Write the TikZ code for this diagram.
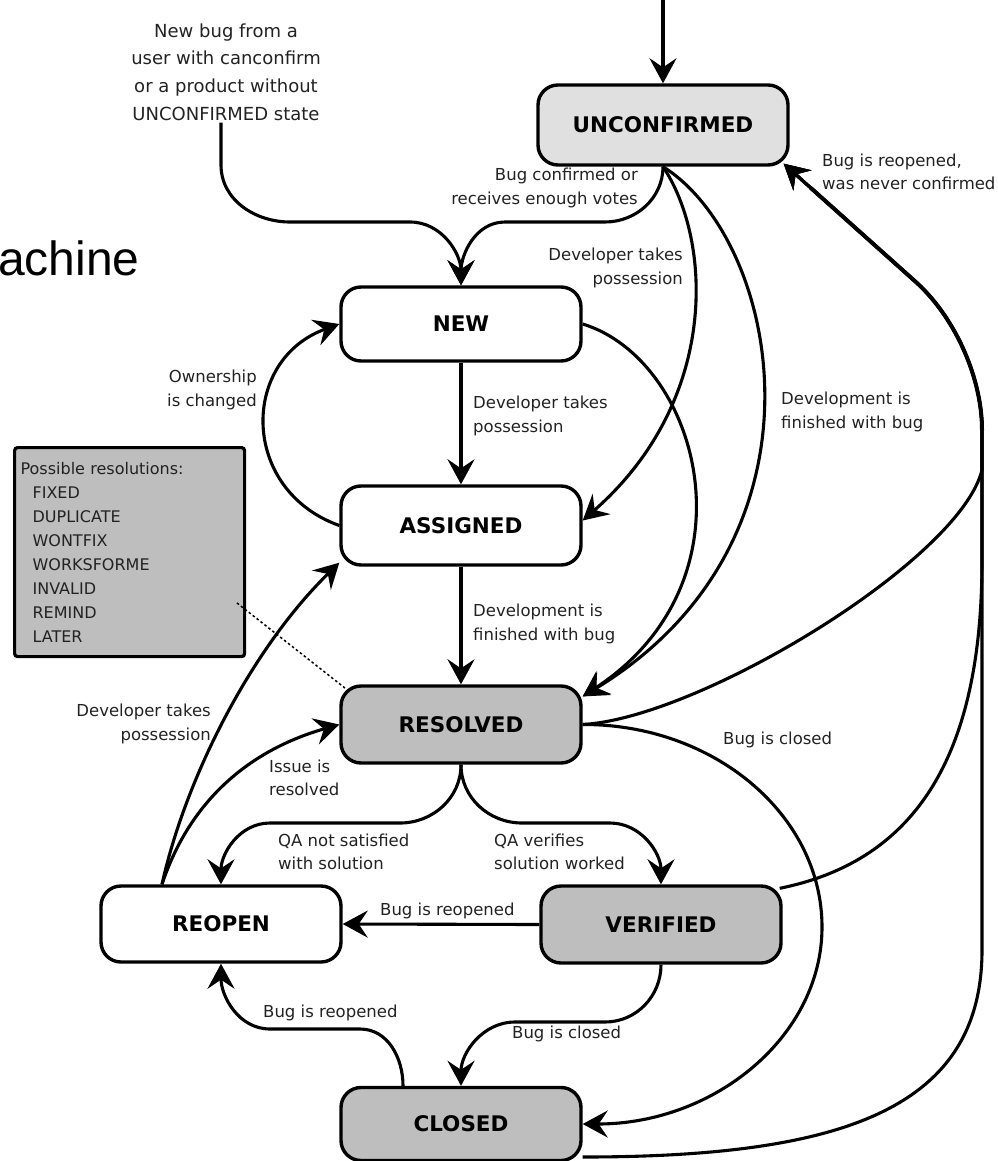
\documentclass[tikz,border=0pt]{standalone}
\usepackage{fontspec}
\setmainfont{DejaVu Sans}
\newfontfamily\arialf{Liberation Sans}
\usetikzlibrary{arrows.meta,calc}
\definecolor{ucgray}{HTML}{E0E0E0}
\definecolor{stgray}{HTML}{BEBEBE}
\definecolor{lbl}{HTML}{222222}
\begin{document}
\begin{tikzpicture}[x=1pt,y=-1pt,
  state/.style={draw=black, line width=3.4pt, rounded corners=20pt, minimum width=240pt, minimum height=77pt, font=\fontsize{21.5}{24}\bfseries, inner sep=0pt},
  lab/.style={font=\fontsize{16.5}{23.5}\selectfont, text=lbl, inner sep=0pt},
  conn/.style={line width=3.1pt, -{Stealth[length=25pt,width=27pt,inset=9pt]}},
  dotl/.style={line width=1.5pt, dash pattern=on 2.5pt off 2.5pt}
]
\useasboundingbox (0,0) rectangle (997,1161);

% states
\node[state, fill=ucgray, minimum width=250pt, minimum height=80pt] (unc) at (663,125) {UNCONFIRMED};
\node[state, fill=white, minimum height=74pt] (new) at (461,324) {NEW};
\node[state, fill=white, minimum height=79pt] (assigned) at (461,525.5) {ASSIGNED};
\node[state, fill=stgray] (resolved) at (461,724.5) {RESOLVED};
\node[state, fill=white, minimum height=76pt] (reopen) at (221,924) {REOPEN};
\node[state, fill=stgray] (verified) at (661,924.5) {VERIFIED};
\node[state, fill=stgray, minimum height=73pt] (closed) at (461,1124) {CLOSED};

% resolutions box
\node[draw, line width=3.2pt, fill=stgray, rounded corners=3pt, text width=218pt, inner xsep=6pt, inner ysep=0pt, minimum height=209pt, align=left, font=\fontsize{16}{24}\selectfont, text=lbl, anchor=north west] (resbox) at (13,446)
  {Possible resolutions:\\ \hspace*{12pt}FIXED\\ \hspace*{12pt}DUPLICATE\\ \hspace*{12pt}WONTFIX\\ \hspace*{12pt}WORKSFORME\\ \hspace*{12pt}INVALID\\ \hspace*{12pt}REMIND\\ \hspace*{12pt}LATER};

% title fragment and new-bug text
\node[font=\arialf\fontsize{48}{52}\selectfont, anchor=base west, inner sep=0pt] (title) at (-2,275) {achine};
\node[font=\fontsize{18}{27.7}\selectfont, text=lbl, align=center, inner sep=2pt] (nb) at (226,72) {New bug from a\\user with canconfirm\\or a product without\\UNCONFIRMED state};

% connectors
\coordinate (top) at (663,0);
\coordinate (uncse) at ([xshift=-6pt,yshift=3pt]unc.south east);
\draw[conn] (top) -- (unc.north);
\draw[conn] ([xshift=-5pt]nb.south) -- (221,165) to[out=-90,in=180] (290,222) -- (410,222) to[out=0,in=90] (new.north);
\draw[conn] (unc.south) to[out=-90,in=0] (605,222) -- (505,222) to[out=180,in=90] (new.north);
\draw[conn] (unc.south) .. controls (712,240) and (720,400) .. ([yshift=5pt]assigned.east);
\draw[conn] (unc.south) .. controls (780,240) and (840,540) .. (resolved.13);
\draw[conn] (new.east) .. controls (700,360) and (760,580) .. (resolved.13);
\draw[conn] (new.south) -- (assigned.north);
\draw[conn] (assigned.south) -- (resolved.north);
\draw[conn] (assigned.west) .. controls (240,490) and (240,360) .. (new.west);
\draw[conn] ([xshift=-59pt]reopen.north) .. controls (185,780) and (250,650) .. (assigned.197);
\draw[conn] ([xshift=-59pt]reopen.north) .. controls (190,800) and (250,750) .. (resolved.west);
\draw[conn] (resolved.south) to[out=-90,in=0] (400,823) -- (270,823) to[out=180,in=90] (reopen.north);
\draw[conn] (resolved.south) to[out=-90,in=180] (522,823) -- (610,823) to[out=0,in=90] (verified.north);
\draw[conn] (verified.west) -- (reopen.east);
\draw[conn] (verified.south) to[out=-90,in=0] (605,1022) -- (515,1022) to[out=180,in=90] (closed.north);
\draw[conn] ([xshift=-58pt]closed.north) to[out=90,in=0] (360,1029) -- (270,1029) to[out=180,in=-90] (reopen.south);
\draw[conn] (resolved.east) .. controls (714,724) and (822,815) .. (822,927) .. controls (822,1036) and (715,1124) .. (closed.east);
\draw[conn] (resolved.east) .. controls (700,718) and (960,560) .. (982,470) -- (982,430) .. controls (982,380) and (957,320) .. (917,283) -- (uncse);
\draw[conn] ([xshift=-3pt,yshift=-4pt]verified.north east) .. controls (920,860) and (982,750) .. (982,560) -- (982,430) .. controls (982,380) and (957,320) .. (917,283) -- (uncse);
\draw[conn] ([yshift=-33pt]closed.east) .. controls (840,1157) and (982,1110) .. (982,950) -- (982,430) .. controls (982,380) and (957,320) .. (917,283) -- (uncse);
\draw[line width=4pt] (982,430) .. controls (982,380) and (957,320) .. (917,283) -- ($(917,283)!0.8!(uncse)$);
\coordinate (dotA) at (237,603);
\draw[dotl] (dotA) -- ([xshift=6pt,yshift=-4pt]resolved.north west);

% labels
\node[lab, align=right, anchor=east] (l1) at (638,188) {Bug confirmed or\\receives enough votes};
\node[lab, align=right, anchor=east] (l2) at (683,268) {Developer takes\\possession};
\node[lab, align=left, anchor=west] (l3) at (781,412) {Development is\\finished with bug};
\node[lab, align=left, anchor=west] (l4) at (822,172) {Bug is reopened,\\was never confirmed};
\node[lab, align=right, anchor=east] (l5) at (257,390) {Ownership\\is changed};
\node[lab, align=left, anchor=west] (l6) at (473,416) {Developer takes\\possession};
\node[lab, align=left, anchor=west] (l7) at (473,624) {Development is\\finished with bug};
\node[lab, align=right, anchor=east] (l8) at (211,724) {Developer takes\\possession};
\node[lab, align=left, anchor=west] (l9) at (269,778) {Issue is\\resolved};
\node[lab, align=left, anchor=west] (l10) at (278,852) {QA not satisfied\\with solution};
\node[lab, align=left, anchor=west] (l11) at (494,852) {QA verifies\\solution worked};
\node[lab, anchor=west] (l12) at (380,911) {Bug is reopened};
\node[lab, anchor=west] (l13) at (723,740) {Bug is closed};
\node[lab, anchor=west] (l14) at (512,1034) {Bug is closed};
\node[lab, anchor=west] (l15) at (263,1013) {Bug is reopened};
\end{tikzpicture}
\end{document}
